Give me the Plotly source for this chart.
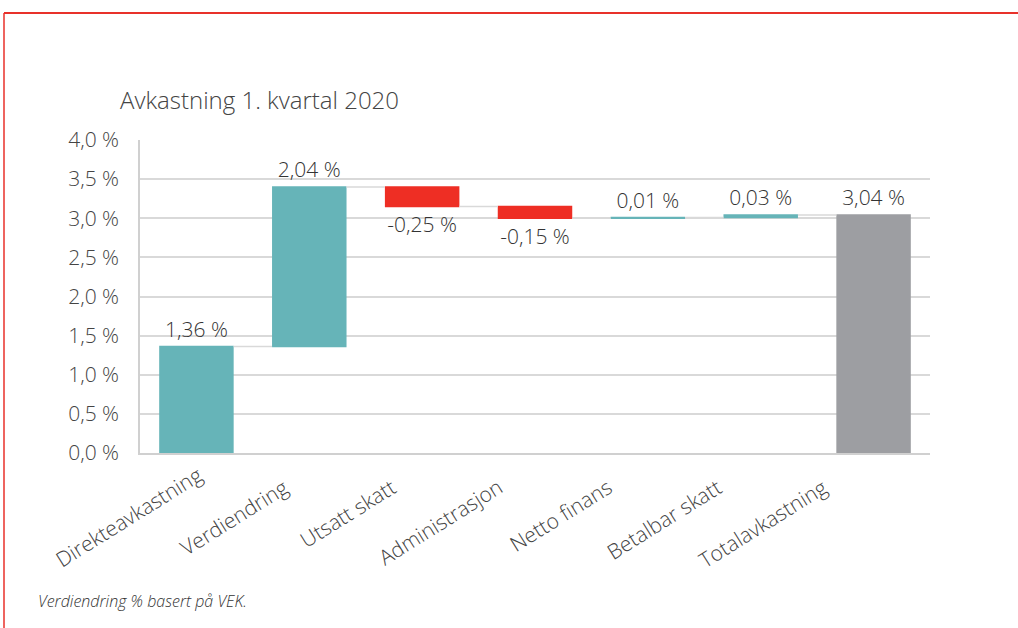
import plotly.graph_objects as go

categories = ["Direkteavkastning", "Verdiendring", "Utsatt skatt", "Administrasjon",
              "Netto finans", "Betalbar skatt", "Totalavkastning"]
values = [1.36, 2.04, -0.25, -0.15, 0.01, 0.03, 3.04]
measures = ["relative", "relative", "relative", "relative", "relative", "relative", "total"]
tick_vals = [0.0, 0.5, 1.0, 1.5, 2.0, 2.5, 3.0, 3.5, 4.0]
tick_text = ["0,0 %", "0,5 %", "1,0 %", "1,5 %", "2,0 %", "2,5 %", "3,0 %", "3,5 %", "4,0 %"]
labels = [f"{v:.2f}".replace(".", ",") + " %" for v in values]

# layout offsets (px) of the rotated category labels, as placed in the original
label_xshift = [13, -13, -18, -25, -28, -31, -38]
label_yshift = [-5, -17, -17, -17, -17, -17, -17]

FONT = "Open Sans"
TXT = "#333333"
TICK = "#444444"

W, H = 1018, 628
L, R, T, B = 140, 88, 140, 175
PW, PH = W - L - R, H - T - B

def xp(px):
    return (px - L) / PW

def yp(py):
    return (H - B - py) / PH

fig = go.Figure(go.Waterfall(
    x=categories,
    y=[v if m == "relative" else None for v, m in zip(values, measures)],
    measure=measures,
    text=labels,
    textposition="outside",
    textfont=dict(family=FONT, size=21, color=TXT, weight=300),
    increasing=dict(marker=dict(color="#66b4b8")),
    decreasing=dict(marker=dict(color="#ee2e24")),
    totals=dict(marker=dict(color="#9d9ea2")),
    connector=dict(line=dict(color="#d9d9d9", width=1.5)),
    cliponaxis=False,
))

cat_annotations = [
    dict(text=c, xref="x", yref="paper", x=c, y=0, xanchor="right", yanchor="top",
         textangle=-32, xshift=dx, yshift=dy, showarrow=False,
         font=dict(family=FONT, size=21, color=TICK, weight=300))
    for c, dx, dy in zip(categories, label_xshift, label_yshift)
]

fig.update_layout(
    width=W, height=H,
    margin=dict(l=L, r=R, t=T, b=B),
    paper_bgcolor="white", plot_bgcolor="white",
    showlegend=False,
    waterfallgap=0.34,
    font=dict(family=FONT, color=TXT, weight=300),
    xaxis=dict(showticklabels=False, range=[-0.5, len(categories) - 0.5],
               showline=True, linecolor="#d0d0d0", linewidth=1.5, ticks=""),
    yaxis=dict(range=[0, 4.0], tickvals=tick_vals, ticktext=tick_text,
               tickfont=dict(family=FONT, size=21, color=TICK, weight=300),
               showgrid=True, gridcolor="#d9d9d9", gridwidth=1.5,
               showline=True, linecolor="#d0d0d0", linewidth=1.5,
               zeroline=False, ticks="", ticklabelstandoff=15),
    annotations=[
        dict(text="Avkastning 1. kvartal 2020", xref="paper", yref="paper",
             x=xp(118), y=yp(100), xanchor="left", yanchor="middle", showarrow=False,
             font=dict(family=FONT, size=24, color=TICK, weight=300)),
        dict(text="<i>Verdiendring % basert på VEK.</i>", xref="paper", yref="paper",
             x=xp(36), y=yp(601), xanchor="left", yanchor="middle", showarrow=False,
             font=dict(family=FONT, size=16, color=TXT, weight=300)),
    ] + cat_annotations,
    shapes=[
        dict(type="line", xref="paper", yref="paper", x0=xp(4), x1=xp(1018),
             y0=yp(13), y1=yp(13), line=dict(color="#e8312a", width=2)),
        dict(type="line", xref="paper", yref="paper", x0=xp(4), x1=xp(4),
             y0=yp(13), y1=yp(628), line=dict(color="#e8312a", width=1.5)),
    ],
)

fig.write_html("out.html")
